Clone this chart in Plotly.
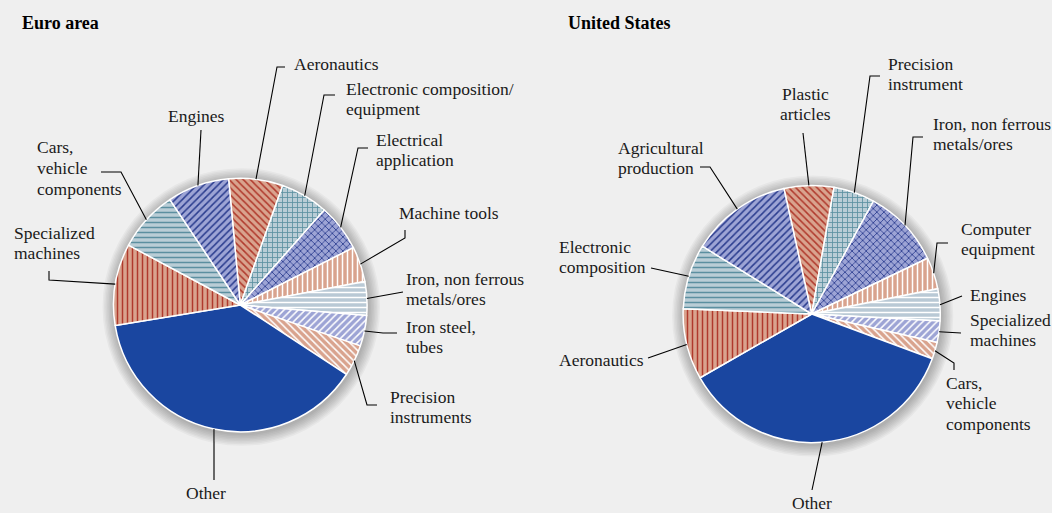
import math
import plotly.graph_objects as go

W, H = 1052, 513

# Share of each product group (% of total), read clockwise from the first slice
euro_labels = ["Aeronautics", "Electronic composition/<br>equipment", "Electrical<br>application",
               "Machine tools", "Iron, non ferrous<br>metals/ores", "Iron steel,<br>tubes",
               "Precision<br>instruments", "Other", "Specialized<br>machines",
               "Cars,<br>vehicle<br>components", "Engines"]
euro_values = [6.9, 6.1, 6.0, 4.5, 4.3, 3.9, 4.0, 38.2, 10.4, 7.8, 7.9]

us_labels = ["Plastic<br>articles", "Precision<br>instrument", "Iron, non ferrous<br>metals/ores",
             "Computer<br>equipment", "Engines", "Specialized<br>machines",
             "Cars,<br>vehicle<br>components", "Other", "Aeronautics",
             "Electronic<br>composition", "Agricultural<br>production"]
us_values = [6.25, 5.2, 9.9, 4.0, 4.0, 2.7, 2.1, 36.1, 8.9, 8.2, 12.7]

# colours / hatching, same sequence in both pies
SALMON, TEAL_L, LAVENDER, GREYBLUE, BLUE = "#d9a38e", "#b9cdd6", "#9da4d5", "#b9c9d5", "#1a46a0"
DRED, TEAL, DBLUE = "#b0392c", "#5b8fa0", "#2a3c8e"
bg_seq = [SALMON, TEAL_L, LAVENDER, SALMON, GREYBLUE, LAVENDER, SALMON, BLUE, SALMON, TEAL_L, LAVENDER]
fg_seq = [DRED, TEAL, DBLUE, "white", "white", "white", "white", BLUE, DRED, TEAL, DBLUE]
shape_seq = ["\\", "+", "x", "|", "-", "/", "\\", "", "|", "-", "/"]

# label layout: (text x, text y, anchor, leader line points after the rim point) in pixels
euro_label_pos = [
    (292, 64, "left", [(277, 67), (285, 67)]),
    (344, 99, "left", [(324, 95), (335, 95)]),
    (374, 150, "left", [(358, 148), (368, 148)]),
    (397, 213, "left", [(405, 238), (405, 230)]),
    (404, 289, "left", [(403, 292)]),
    (404, 337, "left", [(383, 333), (397, 333)]),
    (388, 407, "left", [(367, 405), (377, 405)]),
    (206, 493, "center", [(214, 480)]),
    (12, 243, "left", [(49, 280), (49, 271)]),
    (35, 168, "left", [(121, 172), (101, 172)]),
    (196, 116, "center", [(201, 130)]),
]
us_label_pos = [
    (805, 104, "center", [(803, 133)]),
    (886, 74, "left", [(870, 76), (880, 76)]),
    (931, 134, "left", [(913, 137), (923, 137)]),
    (959, 239, "left", [(937, 243), (948, 243)]),
    (968, 295, "left", [(962, 296)]),
    (968, 330, "left", [(961, 333)]),
    (944, 403, "left", [(954, 363), (954, 370)]),
    (812, 503, "center", [(812, 490)]),
    (557, 360, "left", [(648, 358)]),
    (557, 257, "left", [(651, 268)]),
    (616, 158, "left", [(710, 167), (700, 167)]),
]

LINE_H = 20.5
FONT = "Liberation Serif"


def px(x):
    return x / W


def py(y):
    return 1 - y / H


fig = go.Figure()
shapes, annotations = [], []

pies = [
    # labels, values, centre, radius, rotation, label layout
    (euro_labels, euro_values, (240.3, 305.0), 126.8, -5.3, euro_label_pos),
    (us_labels, us_values, (811.7, 314.0), 128.6, -12.5, us_label_pos),
]

for labels, values, (cx, cy), r, rot, lpos in pies:
    # soft shadow behind the pie
    for k in range(8, 0, -1):
        rr = r + k * 1.5
        shapes.append(dict(type="circle", xref="paper", yref="paper", layer="below",
                           x0=px(cx + 1 - rr), x1=px(cx + 1 + rr),
                           y0=py(cy + 2 + rr), y1=py(cy + 2 - rr),
                           fillcolor="rgba(0,0,0,0.035)", line=dict(width=0)))
    fig.add_trace(go.Pie(
        labels=[l.replace("<br>", " ") for l in labels], values=values,
        sort=False, direction="clockwise", rotation=rot,
        textinfo="none", hoverinfo="label+percent", showlegend=False,
        domain=dict(x=[px(cx - r), px(cx + r)], y=[py(cy + r), py(cy - r)]),
        marker=dict(colors=bg_seq, line=dict(color="white", width=1.5),
                    pattern=dict(shape=shape_seq, fgcolor=fg_seq, bgcolor=bg_seq,
                                 fillmode="replace", size=5, solidity=0.3)),
    ))
    total = sum(values)
    cum = 0
    for lab, v, (tx, ty, anchor, pts) in zip(labels, values, lpos):
        ang = math.radians(rot + 360 * (cum + v / 2) / total)
        cum += v
        rim = (cx + r * math.sin(ang), cy - r * math.cos(ang))
        path = "M %f %f" % (px(rim[0]), py(rim[1]))
        for x, y in pts:
            path += " L %f %f" % (px(x), py(y))
        shapes.append(dict(type="path", xref="paper", yref="paper", path=path,
                           line=dict(color="black", width=1.1)))
        # one annotation per text line to keep the tight line spacing
        lines = lab.split("<br>")
        for i, line in enumerate(lines):
            yy = ty + (i - (len(lines) - 1) / 2) * LINE_H
            annotations.append(dict(x=px(tx), y=py(yy), xref="paper", yref="paper",
                                    text=line, showarrow=False, xanchor=anchor, yanchor="middle",
                                    font=dict(family=FONT, size=17.5, color="#1a1a1a")))

for title, x in [("Euro area", 20), ("United States", 566)]:
    annotations.append(dict(x=px(x), y=py(23), xref="paper", yref="paper", text="<b>%s</b>" % title,
                            showarrow=False, xanchor="left", yanchor="middle",
                            font=dict(family=FONT, size=18, color="black")))

fig.update_layout(width=W, height=H, margin=dict(l=0, r=0, t=0, b=0),
                  paper_bgcolor="#efefef", plot_bgcolor="#efefef",
                  shapes=shapes, annotations=annotations)

fig.write_html("out.html", config={"displayModeBar": False},
               post_script="document.body.style.margin='0';")
